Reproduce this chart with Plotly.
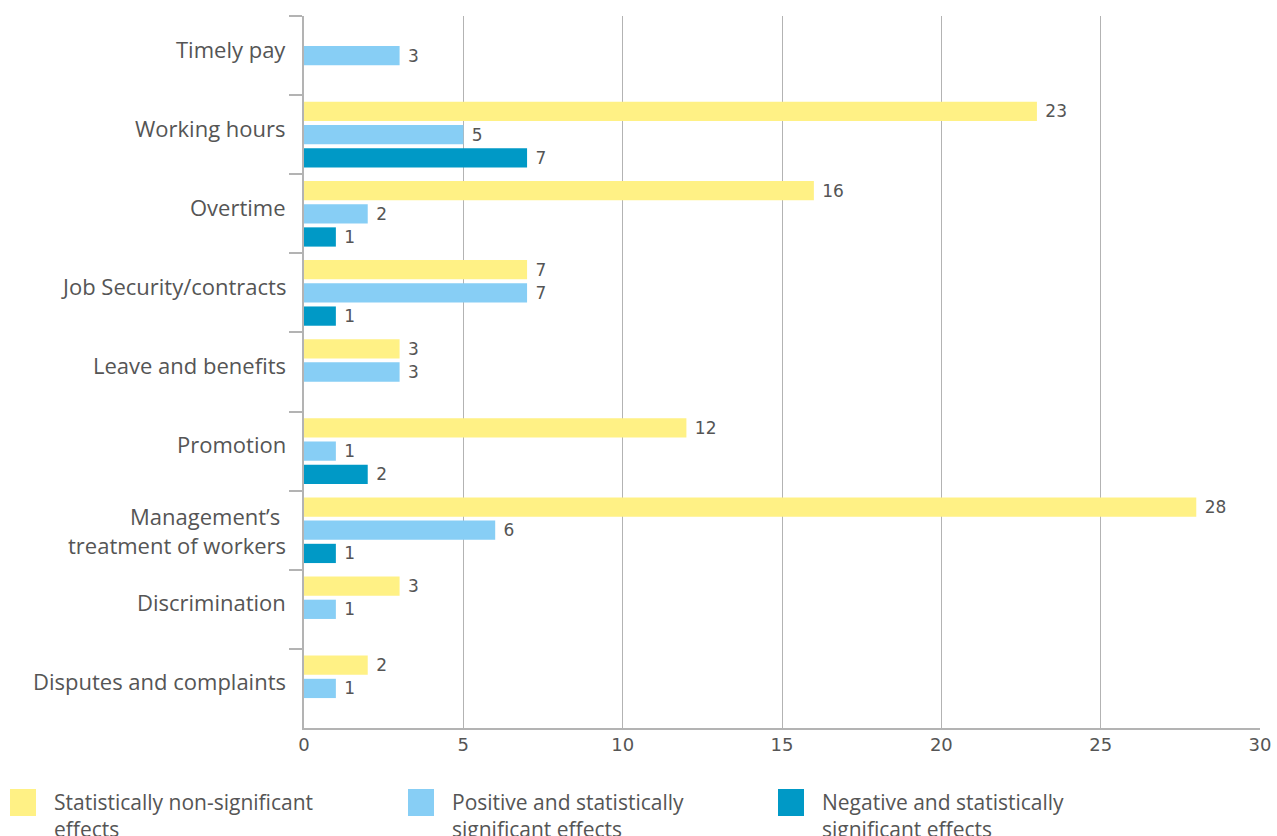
import plotly.graph_objects as go

categories = ["Timely pay", "Working hours", "Overtime", "Job Security/contracts",
              "Leave and benefits", "Promotion", "Management’s <br>treatment of workers",
              "Discrimination", "Disputes and complaints"]
non_significant = [None, 23, 16, 7, 3, 12, 28, 3, 2]
positive_significant = [3, 5, 2, 7, 3, 1, 6, 1, 1]
negative_significant = [None, 7, 1, 1, None, 2, 1, None, None]
series_names = ["Statistically non-significant<br>effects",
                "Positive and statistically<br>significant effects",
                "Negative and statistically<br>significant effects"]
colors = ["#FFF185", "#87CEF5", "#0099C6"]
x_ticks = [0, 5, 10, 15, 20, 25, 30]

W, H = 1277, 836
ML, MR, MT, MB = 304, 17, 16, 108
PW, PH = W - ML - MR, H - MT - MB

fig = go.Figure()
for vals, name, col in zip([non_significant, positive_significant, negative_significant], series_names, colors):
    fig.add_trace(go.Bar(
        y=categories, x=vals, orientation="h", name=name,
        marker=dict(color=col, line=dict(width=0)),
        text=[("" if v is None else " " + str(v)) for v in vals],
        textposition="outside", cliponaxis=False, constraintext="none",
        textfont=dict(family="DejaVu Sans", size=17, color="#555555"),
        showlegend=False,
    ))

fig.update_layout(
    width=W, height=H,
    margin=dict(l=ML, r=MR, t=MT, b=MB, autoexpand=False),
    barmode="group", bargap=0.12, bargroupgap=0.17,
    plot_bgcolor="white", paper_bgcolor="white",
    font=dict(family="Open Sans", color="#555555"),
)
fig.update_xaxes(
    range=[0, 30], tickvals=x_ticks, showgrid=True, gridcolor="#b3b3b3", gridwidth=1,
    zeroline=False, showline=True, linecolor="#b3b3b3", linewidth=1.5,
    ticks="", tickfont=dict(family="DejaVu Sans", size=18, color="#555555"),
)
fig.update_yaxes(
    autorange="reversed", showline=True, linecolor="#b3b3b3", linewidth=1.5,
    ticks="outside", tickson="boundaries", ticklen=13, tickcolor="#b3b3b3", tickwidth=1.5,
    showticklabels=False, showgrid=False,
)

# category labels (sit slightly above band centre, as in the reference)
for cat in categories:
    fig.add_annotation(xref="paper", yref="y", x=0, y=cat,
                       xanchor="right", yanchor="middle", align="right",
                       xshift=-16, yshift=(0 if "<br>" in cat else 7),
                       text=cat, showarrow=False,
                       font=dict(family="Open Sans", size=22, color="#555555"))

legend_x = [10, 408, 778]
for lx, name, col in zip(legend_x, series_names, colors):
    fig.add_shape(type="rect", xref="paper", yref="paper",
                  x0=(lx - ML) / PW, x1=(lx + 26 - ML) / PW,
                  y0=(H - MB - 816) / PH, y1=(H - MB - 789) / PH,
                  fillcolor=col, line=dict(width=0))
    fig.add_annotation(xref="paper", yref="paper",
                       x=(lx + 42 - ML) / PW, y=(H - MB - 786) / PH,
                       xanchor="left", yanchor="top", align="left",
                       text=name, showarrow=False,
                       font=dict(family="Open Sans", size=21, color="#555555"))

fig.write_html("out.html", config={"displayModeBar": False},
               post_script="document.body.style.margin='0';document.body.style.overflow='hidden';")
